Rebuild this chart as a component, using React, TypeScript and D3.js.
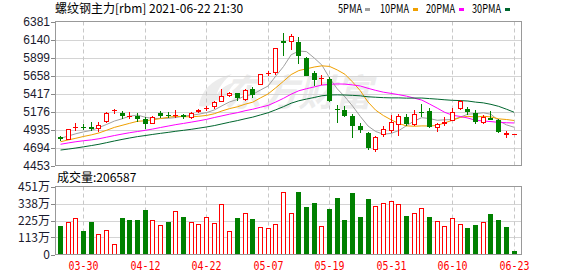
import React from "react";
import * as d3 from "d3";

const dates = [
  "03-25","03-26","03-29","03-30","03-31","04-01","04-02","04-06","04-07","04-08",
  "04-09","04-12","04-13","04-14","04-15","04-16","04-19","04-20","04-21","04-22",
  "04-23","04-26","04-27","04-28","04-29","04-30","05-06","05-07","05-10","05-11",
  "05-12","05-13","05-14","05-17","05-18","05-19","05-20","05-21","05-24","05-25",
  "05-26","05-27","05-28","05-31","06-01","06-02","06-03","06-04","06-07","06-08",
  "06-09","06-10","06-11","06-15","06-16","06-17","06-18","06-21","06-22","06-23",
];
const opens = [
  4835,4794,4955,4972,4975,4942,5040,5183,5160,5108,
  5120,5071,5008,5160,5125,5118,5128,5093,5165,5216,
  5232,5307,5379,5424,5330,5481,5535,5688,5687,6120,
  6102,6102,5896,5695,5615,5611,5210,5196,5116,4982,
  4892,4660,4861,4919,4995,5106,4995,5168,5183,4959,
  5004,5053,5205,5209,5160,5018,5093,5062,4865,4868,
];
const highs = [
  4852,4945,5018,5008,5035,5035,5165,5209,5187,5173,
  5152,5098,5120,5183,5165,5196,5142,5173,5205,5250,
  5317,5473,5440,5430,5477,5500,5680,5722,6025,6223,
  6214,6178,5900,5718,5665,5642,5263,5250,5138,5026,
  4906,4848,4982,5129,5138,5142,5196,5272,5219,5026,
  5098,5219,5330,5240,5196,5129,5183,5080,4915,4880,
];
const lows = [
  4785,4790,4915,4928,4915,4906,5018,5146,5071,5071,
  5040,4946,5005,5093,5085,5093,5071,5075,5160,5187,
  5209,5299,5370,5320,5312,5357,5530,5651,5665,5923,
  5999,5816,5655,5521,5531,5299,5018,5098,4817,4892,
  4660,4630,4830,4884,4852,4982,4982,5106,4951,4906,
  4982,5049,5196,5129,5004,5004,5062,4890,4825,4862,
];
const closes = [
  4805,4942,4966,4962,4940,4995,5152,5190,5116,5113,
  5072,5008,5106,5120,5118,5124,5105,5160,5196,5222,
  5299,5383,5424,5357,5464,5397,5674,5694,6022,6097,
  6191,5923,5655,5598,5622,5321,5200,5116,4982,4930,
  4683,4830,4938,5031,5120,5008,5146,5162,4972,5004,
  5040,5165,5321,5173,5031,5106,5062,4897,4890,4872,
];
// volume in 万 (10k lots)
const volumes = [
  188,213,245,156,215,134,160,68,239,228,
  228,293,226,193,215,291,247,215,201,252,
  208,333,154,241,278,234,180,173,201,416,
  272,412,313,339,186,300,372,228,405,247,
  366,320,344,357,337,254,278,311,247,219,
  186,239,200,175,195,213,267,228,182,20.6587,
];
// closes before the visible window (for moving averages)
const priorCloses = [
  4560,4530,4480,4450,4470,4500,4520,4490,4530,4530,
  4580,4640,4700,4720,4680,4730,4760,4720,4740,4760,
  4700,4740,4720,4730,4735,4790,4810,4840,4840,
];
const priceTicks = [6381,6140,5899,5658,5417,5176,4935,4694,4453];
const volTicks = [0,113,225,338,451];
const volTickLabels = ["0","113万","225万","338万","451万"];
const xTickDates = ["03-30","04-12","04-22","05-07","05-19","05-31","06-10","06-23"];
const maPeriods = [5,10,20,30];
const maNames = ["5PMA","10PMA","20PMA","30PMA"];
const maColors = ["#a0a0a0","#f0a000","#ff00ff","#00662e"];
const title = "螺纹钢主力[rbm] 2021-06-22 21:30";
const volTitle = "成交量:206587";

const RED = "#ff0000";
const GREEN = "#008000";

export default function App() {
  const W = 578, H = 276;
  const L = 55, R = 522;
  const pTop = 21.5, pBot = 165.5;
  const vTop = 186.5, vBot = 254.5;

  const x = d3.scaleBand<string>().domain(dates).range([56.7, 517.9]).paddingInner(0.35).paddingOuter(0.175);
  const bw = x.bandwidth();
  const cx = (d: string) => Math.floor((x(d) as number) + bw / 2) + 0.5;
  const y = d3.scaleLinear().domain([4453, 6381]).range([pBot, pTop]);
  const vy = d3.scaleLinear().domain([0, 451]).range([vBot, vTop]);

  const all = priorCloses.concat(closes);
  const off = priorCloses.length;
  const mas = maPeriods.map((n) =>
    closes.map((_, i) => d3.mean(all.slice(off + i - n + 1, off + i + 1)) as number)
  );
  const line = d3.line<number>().x((_, i) => (x(dates[i]) as number) + bw / 2).y((v) => y(v));

  const font = "'Noto Sans CJK SC', sans-serif";
  const numFont = "'Liberation Sans', Arial, sans-serif";
  const monoFont = "'DejaVu Sans Mono', monospace";

  const legendX = [338, 380, 426, 472];
  const legendW = [24, 29, 29, 29];

  return (
    <svg width={W} height={H} style={{ position: "absolute", left: 0, top: 0, background: "#fff" }}>
      <rect x={0} y={0} width={W} height={H} fill="#fff" />
      {/* watermark */}
      <g fill="#ececec">
        <path d="M199,106 C201,92 210,80 232,74 C224,80 218,88 216,97 C214,104 210,108 199,106 Z" />
        <path d="M214,100 C218,90 226,84 236,82 C230,88 226,94 224,101 Z" />
        <text x={224} y={106} fontSize={37} fontWeight="bold" fontStyle="italic" fontFamily={font}>东方财富</text>
      </g>
      {/* title */}
      <text x={55} y={13} fontSize={12} fontFamily={font} fill="#000">{title}</text>
      {maNames.map((nm, i) => (
        <text key={nm} x={legendX[i]} y={13} fontSize={12} fontFamily={font} fill="#000"
          textLength={legendW[i]} lengthAdjust="spacingAndGlyphs">{nm}</text>
      ))}
      {[365, 413, 459, 505].map((lx, i) => (
        <rect key={lx} x={lx} y={8} width={5} height={3} fill={maColors[i]} />
      ))}
      {/* price grid */}
      {priceTicks.slice(1, -1).map((t) => (
        <line key={t} x1={L} x2={R} y1={Math.round(y(t)) + 0.5} y2={Math.round(y(t)) + 0.5} stroke="#d4d4d4" />
      ))}
      {xTickDates.map((d) => (
        <line key={d} x1={cx(d)} x2={cx(d)} y1={pTop} y2={pBot} stroke="#c8c8c8" strokeDasharray="4,3" />
      ))}
      {/* price axis labels */}
      {priceTicks.map((t) => (
        <g key={t}>
          <line x1={51} x2={L} y1={Math.round(y(t)) + 0.5} y2={Math.round(y(t)) + 0.5} stroke="#888" />
          <text x={50} y={y(t)} dy="0.35em" textAnchor="end" fontSize={12} fontFamily={numFont} fill="#1a1a2e">{t}</text>
        </g>
      ))}
      {/* MA lines */}
      {mas.map((m, i) => (
        <path key={i} d={line(m) as string} fill="none" stroke={maColors[i]} strokeWidth={1} />
      ))}
      {/* candles */}
      {dates.map((d, i) => {
        const o = opens[i], c = closes[i], h = highs[i], l = lows[i];
        const up = c >= o;
        const col = up ? RED : GREEN;
        const xc = cx(d);
        const yTopB = Math.round(y(Math.max(o, c)));
        const yBotB = Math.round(y(Math.min(o, c)));
        const bh = Math.max(1, yBotB - yTopB);
        const xl = xc - 2.5;
        return (
          <g key={d}>
            <line x1={xc} x2={xc} y1={Math.round(y(h))} y2={Math.round(y(l))} stroke={col} />
            {up ? (
              bh <= 2 ? (
                <rect x={xl} y={yTopB} width={5} height={Math.max(1, bh)} fill={col} />
              ) : (
                <rect x={xl + 0.5} y={yTopB + 0.5} width={4} height={bh - 1} fill="#fff" stroke={col} />
              )
            ) : (
              <rect x={xl} y={yTopB} width={5} height={bh} fill={col} />
            )}
          </g>
        );
      })}
      {/* price frame */}
      <rect x={L + 0.5} y={pTop} width={R - L - 1} height={pBot - pTop} fill="none" stroke="#999" />

      {/* volume */}
      <text x={57} y={182} fontSize={12} fontFamily={font} fill="#000">{volTitle}</text>
      {volTicks.slice(1, -1).map((t) => (
        <line key={t} x1={L} x2={R} y1={Math.round(vy(t)) + 0.5} y2={Math.round(vy(t)) + 0.5} stroke="#d4d4d4" />
      ))}
      {xTickDates.map((d) => (
        <line key={d} x1={cx(d)} x2={cx(d)} y1={vTop} y2={vBot} stroke="#c8c8c8" strokeDasharray="4,3" />
      ))}
      {volTicks.map((t, i) => (
        <g key={t}>
          <line x1={51} x2={L} y1={Math.round(vy(t)) + 0.5} y2={Math.round(vy(t)) + 0.5} stroke="#888" />
          <text x={50} y={vy(t)} dy="0.35em" textAnchor="end" fontSize={12} fontFamily={font} fill="#1a1a2e">{volTickLabels[i]}</text>
        </g>
      ))}
      {dates.map((d, i) => {
        const prev = i === 0 ? priorCloses[priorCloses.length - 1] : closes[i - 1];
        const up = closes[i] >= prev;
        const xl = cx(d) - 2.5;
        const top = Math.round(vy(volumes[i]));
        const h = Math.round(vBot) - top;
        return up ? (
          <rect key={d} x={xl + 0.5} y={top + 0.5} width={4} height={h - 1} fill="#fff" stroke={RED} />
        ) : (
          <rect key={d} x={xl} y={top} width={5} height={h} fill={GREEN} />
        );
      })}
      <rect x={L + 0.5} y={vTop} width={R - L - 1} height={vBot - vTop} fill="none" stroke="#999" />
      {xTickDates.map((d) => (
        <text key={d} x={cx(d)} y={270} textAnchor="middle" fontSize={12} fontFamily={monoFont} fill={RED}
          textLength={30} lengthAdjust="spacingAndGlyphs">{d}</text>
      ))}
    </svg>
  );
}
